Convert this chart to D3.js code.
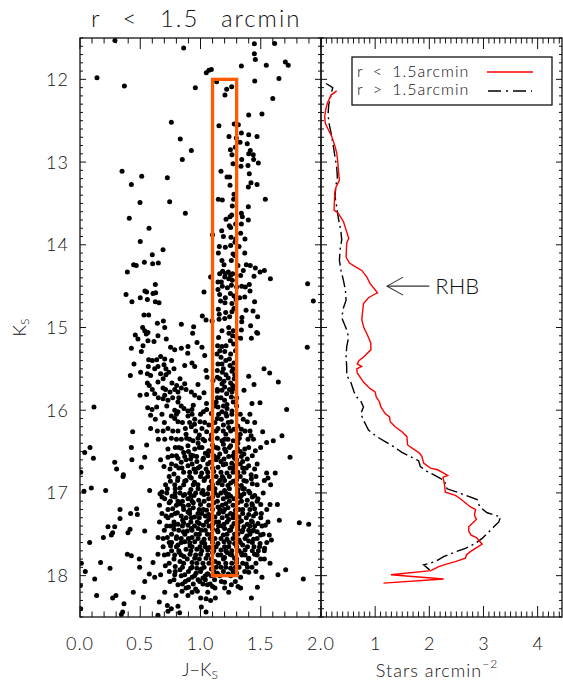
<!DOCTYPE html>
<html><head><meta charset="utf-8">
<script src="https://cdn.jsdelivr.net/npm/d3@7"></script>
<style>
html,body{margin:0;padding:0;background:#fff;}
text{font-family:"Lato","DejaVu Sans",sans-serif;font-weight:300;fill:#111;}
</style></head>
<body><svg id="c" width="563" height="685"></svg>
<script>
// ---------- DATA ----------
const titleText = "r < 1.5 arcmin";
const xTicksLeft = [0, 0.5, 1, 1.5, 2];
const xTickLabelsLeft = ["0.0", "0.5", "1.0", "1.5", "2.0"];
const xTicksRight = [1, 2, 3, 4];
const yTicks = [12, 13, 14, 15, 16, 17, 18];
const legendLabels = ["r < 1.5arcmin", "r > 1.5arcmin"];
const selBox = {jk: [1.1, 1.3], ks: [12, 18]};
const rhbArrow = {tip: [1.22, 14.5], tail: [2.0, 14.5], label: "RHB"};

// CMD stars [J-Ks, Ks]
const stars = [
[0.29,11.53],[0.86,11.62],[1.447,11.57],[1.615,11.565],[1.447,11.69],[1.455,11.76],[1.339,11.84],[1.546,11.83],[1.704,11.79],[1.728,11.83],
[1.048,11.92],[1.07,11.89],[1.09,11.88],[0.141,11.98],[0.368,12.08],[0.957,12.10],[1.134,12.03],[1.217,12.12],[1.259,12.09],[1.203,12.19],
[1.45,12.02],[1.651,11.99],[1.60,12.23],[1.40,12.43],[1.51,12.42],[0.758,12.52],[1.153,12.56],[1.28,12.54],[1.314,12.55],[1.339,12.65],
[1.236,12.69],[1.297,12.71],[1.40,12.67],[1.469,12.69],[0.832,12.72],[1.328,12.76],[1.388,12.78],[1.289,12.82],[1.248,12.85],[0.924,12.86],
[1.413,12.86],[1.40,12.90],[1.261,12.91],[1.438,12.91],[1.342,12.97],[1.441,12.97],[0.849,12.97],[1.27,13.02],[1.336,13.05],[1.394,13.04],
[1.48,13.01],[0.349,13.11],[0.512,13.17],[0.725,13.19],[1.17,13.11],[1.22,13.18],[1.242,13.18],[1.405,13.14],[1.419,13.25],[0.426,13.27],
[1.245,13.28],[1.469,13.27],
[1.397,13.30],[0.498,13.49],[0.744,13.48],[1.148,13.45],[1.181,13.46],[1.278,13.39],[1.275,13.45],[1.264,13.53],[1.397,13.54],[1.538,13.45],
[0.409,13.68],[0.874,13.62],[1.212,13.69],[1.245,13.66],[1.259,13.64],[1.339,13.62],[1.347,13.66],[1.397,13.70],[0.573,13.80],[1.176,13.83],
[1.239,13.77],[1.25,13.79],[1.292,13.75],[1.339,13.75],[1.333,13.86],[1.10,13.88],[1.19,13.90],[1.253,13.91],[1.292,13.93],[1.369,13.93],
[0.50,13.96],[1.156,14.02],[1.206,14.03],[1.25,14.01],[1.286,13.97],[1.32,14.02],[0.689,14.06],[0.60,14.12],[1.148,14.10],[1.27,14.11],
[1.284,14.13],[1.367,14.10],[0.445,14.24],[0.467,14.25],[0.534,14.21],[0.603,14.23],[0.65,14.22],[1.178,14.19],[1.195,14.24],[1.256,14.19],
[1.311,14.25],[1.38,14.24],[1.413,14.25],[1.455,14.28],[0.393,14.33],[1.084,14.39],[1.159,14.35],[1.184,14.32],[1.206,14.35],[1.231,14.33],
[1.25,14.37],[1.267,14.35],[1.201,14.39],[1.234,14.41],[1.264,14.43],[1.145,14.45],[1.173,14.45],[1.333,14.37],[1.355,14.31],[1.444,14.38],
[1.494,14.33],[1.53,14.31],[1.58,14.41],[0.625,14.48],[0.382,14.60],[0.431,14.69],[0.50,14.64],[0.539,14.56],[0.553,14.57],[0.559,14.66],
[0.606,14.59],[0.628,14.58],[0.625,14.69],[0.656,14.70],[1.029,14.57],[1.145,14.54],[1.181,14.50],[1.223,14.52],[1.256,14.49],[1.30,14.51],
[1.342,14.50],[1.372,14.51],[1.405,14.48],[1.159,14.60],[1.206,14.64],[1.248,14.59],[1.278,14.62],[1.325,14.64],[1.367,14.63],[1.411,14.56],
[1.167,14.68],[1.203,14.70],[1.261,14.71],[1.295,14.66],[1.449,14.69],[1.889,14.47],[1.936,14.68],[0.531,14.85],[0.57,14.85],[1.015,14.86],
[1.148,14.78],[1.156,14.84],[1.209,14.82],[1.261,14.81],[1.278,14.77],[1.378,14.79],[1.436,14.80],[1.046,14.91],[1.096,14.92],[1.154,14.90],
[1.201,14.89],[1.242,14.87],[1.344,14.88],[1.474,14.87],[0.642,14.95],[0.692,14.92],[0.703,15.00],[0.841,14.96],[0.943,14.99],[1.342,14.93],
[1.416,14.98],[0.52,15.00],[0.537,15.04],[0.564,15.06],[0.935,15.07],[1.178,15.04],[1.234,15.00],[1.272,15.04],[1.339,15.03],[1.466,15.06],
[0.459,15.09],[0.481,15.14],[0.55,15.08],[0.564,15.16],[0.647,15.10],[0.716,15.14],[0.614,15.17],[0.426,15.25],[0.509,15.29],[0.523,15.22],
[0.752,15.24],[0.786,15.27],[0.841,15.25],[0.896,15.23],[0.971,15.18],[1.012,15.24],[1.142,15.22],[1.178,15.23],[1.212,15.22],[1.248,15.16],
[1.267,15.10],[1.275,15.20],[1.333,15.13],[1.422,15.13],[1.474,15.07],[1.236,15.07],[1.886,15.24],[0.894,15.31],[1.035,15.34],[1.137,15.32],
[1.201,15.29],[1.25,15.32],[0.636,15.39],[0.669,15.35],[0.57,15.39],[0.703,15.38],[0.448,15.44],[0.567,15.47],[0.647,15.47],[0.697,15.45],
[0.713,15.50],[0.929,15.43],[0.952,15.47],[0.869,15.46],[1.145,15.44],[1.178,15.44],[1.245,15.46],[1.278,15.43],[0.418,15.58],[0.503,15.54],
[0.559,15.56],[0.586,15.58],[0.669,15.56],[0.713,15.57],[0.736,15.54],[1.046,15.52],[1.054,15.60],[1.14,15.52],[1.181,15.54],[1.212,15.57],
[1.261,15.53],[1.284,15.57],[1.40,15.59],[1.527,15.50],[1.574,15.55],[0.559,15.67],[0.575,15.70],[0.647,15.66],[0.763,15.67],[0.802,15.70],
[0.869,15.68],[0.979,15.69],[1.104,15.64],[1.178,15.68],[1.195,15.65],[1.25,15.67],[1.267,15.70],[1.444,15.69],[1.646,15.66],[0.498,15.82],
[0.553,15.81],[0.62,15.80],[0.689,15.73],[0.703,15.82],[0.747,15.78],[0.786,15.75],[0.813,15.78],[0.841,15.73],[0.924,15.78],[0.952,15.82],
[1.029,15.79],[1.14,15.77],[1.178,15.76],[1.217,15.80],[1.261,15.78],[1.361,15.76],[0.689,15.86],[0.73,15.88],[0.769,15.85],[0.813,15.90],
[1.14,15.85],[1.20,15.88],[1.256,15.84],[1.272,15.90],[1.427,15.92],[1.494,15.91],[0.116,15.96],[0.562,15.97],[0.598,15.99],[0.636,15.96],
[0.786,16.00],[0.813,16.02],[0.863,15.98],[0.896,16.01],[0.929,15.99],[1.024,16.02],[1.051,15.99],[1.145,15.96],[1.178,16.02],[1.22,15.98],
[1.261,16.01],[1.715,15.99],[0.586,16.06],[0.625,16.11],[0.758,16.07],[0.786,16.10],[0.813,16.14],[0.896,16.07],[0.952,16.11],[0.996,16.14],
[1.035,16.15],[1.14,16.10],[1.173,16.11],[1.217,16.07],[1.256,16.14],[1.355,16.11],[1.388,16.14],[0.586,16.22],[0.642,16.25],[0.73,16.22],
[0.813,16.25],[0.437,16.26],[0.874,16.22],[0.924,16.20],[1.012,16.22],[1.051,16.26],[1.145,16.22],[1.189,16.25],[1.234,16.21],[1.278,16.23],
[1.339,16.23],[1.411,16.25],[1.516,16.26],[0.703,16.35],[0.758,16.34],[0.841,16.35],[0.885,16.34],[0.938,16.37],[0.979,16.34],[1.035,16.37],
[1.084,16.35],[1.14,16.34],[1.178,16.37],[1.228,16.35],[1.272,16.37],[1.322,16.34],[1.394,16.35],[1.604,16.37],[1.676,16.31],[0.553,16.42],
[0.426,16.45],[0.083,16.45],[0.039,16.51],[0.73,16.47],[0.791,16.45],[0.841,16.46],[0.896,16.43],[0.952,16.47],[1.012,16.45],[1.068,16.49],
[1.145,16.46],[1.20,16.47],[1.25,16.43],[1.306,16.46],[1.367,16.47],[1.455,16.49],[1.499,16.45],[1.549,16.39],[0.111,16.58],[0.288,16.63],
[0.431,16.60],[0.537,16.57],[0.669,16.60],[0.73,16.57],[0.763,16.55],[0.813,16.58],[0.869,16.56],[0.918,16.59],[0.968,16.56],[1.024,16.58],
[1.062,16.55],[1.145,16.57],[1.195,16.59],[1.234,16.56],[1.283,16.58],[1.339,16.56],[1.388,16.59],[1.743,16.57],[0.304,16.71],[0.509,16.69],
[0.697,16.68],[0.747,16.71],[0.796,16.67],[0.846,16.70],[0.896,16.67],[0.946,16.71],[0.996,16.68],[1.046,16.71],[1.145,16.69],[1.189,16.66],
[1.245,16.70],[1.289,16.67],[1.35,16.70],[1.40,16.67],[1.449,16.71],[1.549,16.76],[1.62,16.76],[0.006,16.75],[0.36,16.78],
[0.357,16.80],[0.033,16.98],[0.094,16.94],[0.213,16.97],[0.578,16.97],[0.664,17.01],[0.725,16.95],[0.786,16.90],[0.813,16.82],[0.869,16.86],
[0.924,16.82],[0.979,16.90],[1.035,16.83],[1.073,16.93],[1.145,16.88],[1.189,16.82],[1.228,16.91],[1.272,16.86],[1.339,16.91],[1.38,16.86],
[1.422,16.83],[1.364,16.95],[1.582,16.90],[1.56,16.82],[0.703,17.07],[0.764,17.04],[0.813,17.10],[0.858,17.03],[0.896,17.07],[0.946,17.03],
[0.985,17.09],[1.029,17.02],[1.068,17.07],[1.145,17.03],[1.189,17.07],[1.234,17.02],[1.278,17.07],[1.339,17.03],[1.388,17.09],[1.427,17.13],
[1.477,17.07],[1.577,17.14],[0.332,17.20],[0.332,17.31],[0.42,17.25],[0.47,17.19],[0.476,17.26],[0.714,17.28],[0.769,17.19],[0.808,17.24],
[0.858,17.16],[0.896,17.23],[0.94,17.18],[0.979,17.25],[1.024,17.20],[1.068,17.26],[1.145,17.17],[1.189,17.23],[1.228,17.18],[1.272,17.26],
[1.35,17.20],[1.40,17.26],[1.449,17.19],[1.505,17.25],[1.638,17.14],[1.654,17.33],[0.232,17.41],[0.288,17.41],[0.26,17.51],[0.271,17.48],
[0.398,17.48],[0.415,17.44],[0.537,17.46],[0.194,17.54],[0.08,17.60],[0.725,17.54],[0.78,17.39],[0.813,17.38],[0.852,17.33],[0.896,17.39],
[0.924,17.30],[0.974,17.35],[1.024,17.39],[1.068,17.32],[1.151,17.35],[1.195,17.38],[1.234,17.32],[1.278,17.37],[1.339,17.34],[1.388,17.38],
[1.422,17.34],[1.477,17.37],[1.538,17.39],[1.82,17.36],[1.898,17.38],[0.802,17.53],[0.858,17.47],[0.924,17.43],[0.963,17.50],[1.007,17.45],
[1.057,17.50],[1.145,17.47],[1.189,17.51],[1.239,17.45],[1.283,17.50],[1.344,17.47],[1.383,17.52],[1.433,17.46],[1.499,17.51],[1.571,17.51],
[1.588,17.57],[0.648,17.54],[0.752,17.64],[0.813,17.63],[0.869,17.59],[0.913,17.64],[0.952,17.59],[0.996,17.65],[1.035,17.61],[1.073,17.66],
[1.145,17.61],[1.195,17.59],[1.234,17.65],[1.283,17.61],[1.35,17.63],[1.40,17.58],[1.444,17.65],[1.494,17.61],[1.532,17.67],[0.393,17.74],
[0.426,17.76],[0.647,17.74],[0.73,17.74],[0.786,17.75],[0.824,17.72],[0.863,17.77],[0.913,17.74],[0.952,17.79],[1.001,17.74],[1.046,17.79],
[1.145,17.75],[1.20,17.78],[1.245,17.74],[1.283,17.79],[1.344,17.75],[1.40,17.79],[1.449,17.74],[1.499,17.80],[1.577,17.85],[0.011,17.85],
[0.171,17.84],[0.249,17.91],[0.492,17.80],[0.495,17.90],[0.606,17.84],[0.708,17.88],[0.044,17.95],[0.122,18.04],[0.575,17.98],[0.62,18.02],
[0.669,17.99],[0.741,17.95],[0.786,17.99],[0.83,17.93],[0.869,17.99],[0.918,17.91],[0.963,17.97],[1.007,17.92],[1.057,17.98],[1.117,18.05],
[1.173,18.07],[1.20,18.08],[1.289,18.07],[1.333,18.02],[1.367,17.95],[1.40,17.96],[1.427,17.90],[1.51,18.02],[1.643,17.99],[1.707,17.93],
[1.853,18.04],[0.537,18.07],[0.747,18.07],[0.813,18.11],[0.874,18.07],[0.94,18.10],[0.993,18.07],[1.057,18.11],[1.256,18.11],[1.311,18.13],
[1.333,18.15],[1.472,18.14],[0.003,18.12],[0.138,18.24],[0.271,18.27],[0.298,18.24],[0.442,18.20],[0.365,18.34],[0.526,18.26],[0.703,18.20],
[0.797,18.24],[0.847,18.19],[0.896,18.24],[0.974,18.19],[1.001,18.27],[1.046,18.28],[1.084,18.30],[1.123,18.27],[1.234,18.20],[1.422,18.27],
[0.658,18.32],[0.725,18.36],[0.758,18.40],[0.813,18.37],[1.007,18.38],[1.046,18.44],[0.354,18.44],[0.343,18.47],[0.647,18.48],[0.827,18.45],
[0.73,18.43],[0.006,18.40],
[1.17,15.36],[1.24,15.38],[1.14,15.60],[1.23,15.61],[1.20,15.72],[1.27,15.74],[1.13,15.90],[1.22,15.93],[1.05,15.92],[0.94,15.94],
[1.00,16.05],[1.09,16.04],[1.21,16.04],[1.33,16.05],[0.95,16.17],[1.07,16.18],[1.19,16.18],[1.31,16.19],[0.88,16.29],[0.99,16.30],
[1.09,16.30],[1.21,16.29],[1.33,16.29],[1.42,16.31],
[0.98,16.40],[1.10,16.42],[1.19,16.41],[1.31,16.40],[1.04,16.52],[1.16,16.53],[1.28,16.51],[1.36,16.53],[0.86,16.51],[0.92,16.54],
[0.97,16.62],[1.08,16.63],[1.17,16.62],[1.26,16.64],[1.35,16.62],[0.84,16.63],[0.91,16.75],[1.01,16.76],[1.11,16.74],[1.22,16.76],
[1.31,16.75],[1.42,16.78],[0.78,16.77],[1.18,16.80],[1.06,16.80],
[0.88,16.85],[0.95,16.87],[1.09,16.86],[1.16,16.85],[1.25,16.88],[1.30,16.84],[1.43,16.89],[0.75,16.86],[0.83,16.94],[0.92,16.96],
[1.02,16.97],[1.12,16.95],[1.20,16.97],[1.31,16.96],[1.40,16.98],[0.68,16.99],
[0.79,17.00],[0.87,17.02],[0.96,17.00],[1.06,17.01],[1.17,17.00],[1.25,17.04],[1.36,17.01],[1.45,17.03],[0.74,17.12],[0.83,17.13],
[0.94,17.12],[1.00,17.14],[1.11,17.12],[1.21,17.13],[1.31,17.12],[1.38,17.15],[1.50,17.14],[0.91,17.21],[1.05,17.21],[1.16,17.20],[1.29,17.21],
[0.76,17.27],[0.84,17.28],[0.95,17.29],[1.04,17.28],[1.12,17.29],[1.22,17.28],[1.32,17.29],[1.44,17.28],[0.86,17.36],[0.99,17.37],
[1.10,17.38],[1.18,17.40],[1.26,17.41],[1.36,17.41],[1.45,17.40],[0.72,17.40],
[0.78,17.44],[0.89,17.46],[0.98,17.43],[1.10,17.44],[1.20,17.43],[1.31,17.44],[1.40,17.45],[1.47,17.47],[0.84,17.55],[0.93,17.54],
[1.03,17.56],[1.12,17.55],[1.22,17.56],[1.32,17.57],[1.44,17.56],
[0.76,17.60],[0.88,17.68],[0.97,17.68],[1.06,17.69],[1.17,17.69],[1.26,17.70],[1.37,17.69],[1.48,17.70],[0.82,17.70],[1.10,17.72],[1.22,17.72],[1.34,17.73],
[0.83,17.83],[0.93,17.84],[1.02,17.85],[1.12,17.83],[1.21,17.85],[1.30,17.84],[1.38,17.86],[0.79,17.89],[0.97,17.91],[1.09,17.92],
[1.17,17.90],[1.25,17.91],[1.32,17.90],[1.06,17.98],[1.14,17.97],[1.23,17.98],[1.30,17.97],[0.93,18.02],[1.02,18.03],[0.90,18.14],[0.96,18.16],[1.10,18.13],
[1.15,15.12],[1.30,15.12],[1.16,15.28],[1.29,15.28],[0.60,15.40],[0.76,15.40],[1.21,15.40],[0.62,15.50],[0.78,15.50],[1.19,15.50],[1.27,15.50],
[0.69,15.62],[0.83,15.62],[1.16,15.62],[1.28,15.62],[0.60,15.75],[0.71,15.75],[0.88,15.75],[1.14,15.75],[1.24,15.75],
[0.65,15.85],[0.82,15.85],[0.99,15.85],[1.17,15.85],[1.30,15.85],[0.72,15.95],[0.84,15.95],[1.12,15.95],[1.19,15.95],[1.30,15.95],
[0.68,16.05],[0.80,16.05],[0.93,16.05],[1.15,16.05],[1.26,16.05],[1.41,16.05],[0.70,16.15],[0.85,16.15],[0.91,16.15],[1.12,16.15],[1.23,16.15],[1.45,16.15],
[0.69,16.25],[0.77,16.25],[0.96,16.25],[1.13,16.25],[1.25,16.25],[1.37,16.25],[0.65,16.35],[0.80,16.35],[0.91,16.35],[1.02,16.35],[1.20,16.35],[1.31,16.35],[1.44,16.35],
[0.82,16.45],[0.99,16.45],[1.13,16.45],[1.24,16.45],[1.40,16.45],[0.90,16.50],[1.07,16.50],[1.21,16.50],[1.33,16.50],
[0.80,16.55],[0.94,16.55],[1.11,16.55],[1.27,16.55],[1.43,16.55],[0.88,16.60],[1.02,16.60],[1.13,16.60],[1.30,16.60],
[0.76,16.65],[0.93,16.65],[1.06,16.65],[1.21,16.65],[1.33,16.65],[1.47,16.65],[0.82,16.70],[0.98,16.70],[1.10,16.70],[1.27,16.70],[1.38,16.70],
[0.86,16.75],[0.96,16.75],[1.06,16.75],[1.17,16.75],[1.27,16.75],[1.36,16.75],[0.74,16.80],[0.91,16.80],[1.00,16.80],[1.13,16.80],[1.24,16.80],[1.33,16.80],[1.46,16.80],
[0.81,16.85],[1.03,16.85],[1.20,16.85],[1.36,16.85],[1.53,16.85],[0.71,16.90],[0.86,16.90],[0.94,16.90],[1.10,16.90],[1.18,16.90],[1.30,16.90],[1.47,16.90],
[0.79,16.95],[0.98,16.95],[1.07,16.95],[1.24,16.95],[1.35,16.95],
[0.72,17.00],[0.83,17.00],[0.91,17.00],[1.01,17.00],[1.12,17.00],[1.21,17.00],[1.31,17.00],[1.41,17.00],[1.52,17.00],
[0.68,17.05],[0.79,17.05],[0.92,17.05],[1.10,17.05],[1.22,17.05],[1.33,17.05],[1.43,17.05],
[0.75,17.10],[0.85,17.10],[0.93,17.10],[1.03,17.10],[1.14,17.10],[1.24,17.10],[1.34,17.10],[1.47,17.10],
[0.66,17.15],[0.80,17.15],[0.90,17.15],[1.07,17.15],[1.18,17.15],[1.27,17.15],[1.43,17.15],
[0.73,17.20],[0.86,17.20],[0.99,17.20],[1.10,17.20],[1.20,17.20],[1.32,17.20],[1.41,17.20],[1.55,17.20],
[0.68,17.25],[0.79,17.25],[0.91,17.25],[1.01,17.25],[1.15,17.25],[1.25,17.25],[1.35,17.25],[1.46,17.25],
[0.73,17.30],[0.88,17.30],[0.99,17.30],[1.08,17.30],[1.18,17.30],[1.27,17.30],[1.38,17.30],[1.50,17.30],
[0.66,17.35],[0.78,17.35],[0.92,17.35],[1.05,17.35],[1.13,17.35],[1.22,17.35],[1.32,17.35],[1.43,17.35],[1.56,17.35],
[0.75,17.40],[0.85,17.40],[0.95,17.40],[1.07,17.40],[1.15,17.40],[1.31,17.40],[1.41,17.40],[1.51,17.40],
[0.70,17.45],[0.82,17.45],[0.93,17.45],[1.04,17.45],[1.14,17.45],[1.25,17.45],[1.35,17.45],[1.44,17.45],
[0.76,17.50],[0.87,17.50],[0.99,17.50],[1.09,17.50],[1.22,17.50],[1.31,17.50],[1.41,17.50],[1.52,17.50],
[0.69,17.55],[0.80,17.55],[0.90,17.55],[0.98,17.55],[1.08,17.55],[1.17,17.55],[1.27,17.55],[1.37,17.55],[1.47,17.55],
[0.74,17.60],[0.84,17.60],[0.91,17.60],[1.01,17.60],[1.10,17.60],[1.24,17.60],[1.33,17.60],[1.43,17.60],[1.55,17.60],
[0.69,17.65],[0.80,17.65],[0.93,17.65],[1.04,17.65],[1.13,17.65],[1.20,17.65],[1.30,17.65],[1.39,17.65],[1.49,17.65],
[0.76,17.70],[0.92,17.70],[1.01,17.70],[1.11,17.70],[1.21,17.70],[1.32,17.70],[1.43,17.70],[1.53,17.70],
[0.70,17.75],[0.84,17.75],[0.96,17.75],[1.06,17.75],[1.17,17.75],[1.26,17.75],[1.37,17.75],[1.47,17.75],
[0.78,17.80],[0.89,17.80],[0.99,17.80],[1.09,17.80],[1.19,17.80],[1.30,17.80],[1.40,17.80],[1.53,17.80],
[0.74,17.85],[0.86,17.85],[0.97,17.85],[1.07,17.85],[1.15,17.85],[1.26,17.85],[1.35,17.85],[1.46,17.85],
[0.85,17.90],[0.93,17.90],[1.03,17.90],[1.13,17.90],[1.21,17.90],[1.29,17.90],[1.39,17.90],
[0.79,17.95],[0.90,17.95],[1.00,17.95],[1.11,17.95],[1.19,17.95],[1.27,17.95],[1.46,17.95],
[0.84,18.00],[0.95,18.00],[1.04,18.00],[1.09,18.00],[1.16,18.00],[1.25,18.00],
[0.78,18.05],[0.90,18.05],[0.98,18.05],[1.04,18.05],[0.85,18.10],[1.02,18.10],[1.08,18.10],[0.88,18.15],[1.12,18.15],[1.20,18.15],[0.93,18.20],[1.06,18.20]
];

// Density profiles [stars arcmin^-2, Ks]
const innerProfile = [
[0.29,12.14],[0.185,12.19],[0.117,12.29],[0.086,12.37],[0.068,12.45],[0.08,12.53],[0.136,12.61],[0.198,12.69],[0.259,12.81],[0.29,12.89],
[0.309,12.99],[0.321,13.10],[0.34,13.22],[0.278,13.30],[0.253,13.38],[0.241,13.58],[0.321,13.62],[0.414,13.72],[0.463,13.82],[0.512,13.92],
[0.475,13.98],[0.463,14.15],[0.525,14.22],[0.648,14.27],[0.753,14.31],[0.846,14.39],[0.907,14.47],[0.969,14.52],[1.043,14.58],[0.957,14.61],
[0.877,14.64],[0.784,14.71],[0.753,14.91],[0.796,15.01],[0.858,15.09],[0.92,15.19],[0.92,15.27],[0.796,15.35],[0.70,15.40],[0.67,15.44],
[0.75,15.47],[0.66,15.50],[0.67,15.55],[0.784,15.66],[0.907,15.74],[1.0,15.78],[1.02,15.84],[1.08,15.90],[1.105,15.96],[1.185,16.04],
[1.265,16.08],[1.278,16.14],[1.37,16.20],[1.494,16.26],[1.586,16.32],[1.599,16.42],[1.71,16.47],[1.821,16.52],[1.864,16.56],[1.895,16.64],
[2.019,16.70],[2.154,16.72],[2.265,16.76],[2.34,16.79],[2.253,16.81],[2.278,16.89],[2.296,16.99],[2.481,17.03],[2.574,17.07],[2.648,17.11],
[2.759,17.17],[2.852,17.20],[2.833,17.27],[2.87,17.32],[2.79,17.37],[2.728,17.41],[2.728,17.46],[2.772,17.51],[2.87,17.54],[2.975,17.62],
[2.852,17.67],[2.759,17.71],[2.685,17.75],[2.667,17.79],[2.481,17.83],[2.315,17.86],[2.173,17.89],[2.031,17.94],[1.29,17.99],[2.265,18.04],
[1.154,18.09]
];
const outerProfile = [
[0.093,12.05],[0.216,12.10],[0.179,12.21],[0.142,12.31],[0.13,12.43],[0.154,12.55],[0.198,12.69],[0.228,12.81],[0.259,12.94],[0.29,13.06],
[0.302,13.18],[0.272,13.30],[0.259,13.42],[0.29,13.54],[0.321,13.68],[0.364,13.82],[0.383,13.94],[0.352,14.06],[0.34,14.19],[0.37,14.31],
[0.414,14.43],[0.451,14.55],[0.463,14.67],[0.401,14.79],[0.389,14.89],[0.438,14.97],[0.488,15.05],[0.506,15.13],[0.475,15.23],[0.463,15.35],
[0.475,15.48],[0.475,15.58],[0.549,15.66],[0.611,15.78],[0.66,15.84],[0.735,15.89],[0.784,15.96],[0.735,16.04],[0.784,16.12],[0.877,16.24],
[1.031,16.32],[1.185,16.38],[1.34,16.44],[1.494,16.51],[1.648,16.56],[1.802,16.61],[1.833,16.68],[1.957,16.74],[2.111,16.79],[2.278,16.85],
[2.327,16.95],[2.512,16.99],[2.636,17.02],[2.883,17.08],[2.932,17.17],[3.068,17.24],[3.315,17.29],[3.284,17.35],[3.191,17.41],[3.068,17.49],
[2.975,17.55],[2.852,17.61],[2.667,17.67],[2.451,17.72],[2.265,17.77],[2.111,17.83],[1.895,17.87],[2.006,17.93]
];

// ---------- DRAW ----------
const svg = d3.select("#c");
const P = {xl: 80, xm: 321, xr: 562, yt: 38, yb: 617};
const xL = d3.scaleLinear().domain([0, 2]).range([P.xl, P.xm]);
const xR = d3.scaleLinear().domain([0, 4.45]).range([P.xm, P.xr]);
const y = d3.scaleLinear().domain([11.5, 18.5]).range([P.yt, P.yb]);

const defs = svg.append("defs");
defs.append("clipPath").attr("id", "clipL").append("rect")
  .attr("x", P.xl).attr("y", P.yt).attr("width", P.xm - P.xl).attr("height", P.yb - P.yt);
defs.append("clipPath").attr("id", "clipR").append("rect")
  .attr("x", P.xm).attr("y", P.yt).attr("width", P.xr - P.xm).attr("height", P.yb - P.yt);

// Stars
svg.append("g").attr("clip-path", "url(#clipL)")
  .selectAll("circle").data(stars).join("circle")
  .attr("cx", d => xL(d[0])).attr("cy", d => y(d[1])).attr("r", 2.5).attr("fill", "#000");

// Selection box
svg.append("rect")
  .attr("x", xL(selBox.jk[0])).attr("y", y(selBox.ks[0]))
  .attr("width", xL(selBox.jk[1]) - xL(selBox.jk[0]))
  .attr("height", y(selBox.ks[1]) - y(selBox.ks[0]))
  .attr("fill", "none").attr("stroke", "#ff5a00").attr("stroke-width", 3.3);

// Profiles
const line = d3.line().x(d => xR(d[0])).y(d => y(d[1]));
const gR = svg.append("g").attr("clip-path", "url(#clipR)");
gR.append("path").datum(outerProfile).attr("d", line)
  .attr("fill", "none").attr("stroke", "#000").attr("stroke-width", 1.4)
  .attr("stroke-dasharray", "12,4,2,4");
gR.append("path").datum(innerProfile).attr("d", line)
  .attr("fill", "none").attr("stroke", "#ff0000").attr("stroke-width", 1.4);

// Arrow
const ax0 = xR(rhbArrow.tip[0]), ay0 = y(rhbArrow.tip[1]);
const ax1 = xR(rhbArrow.tail[0]);
const arrow = svg.append("g").attr("stroke", "#333").attr("stroke-width", 1.1).attr("fill", "none");
arrow.append("line").attr("x1", ax0).attr("y1", ay0).attr("x2", ax1).attr("y2", ay0);
arrow.append("path").attr("d", `M${ax0 + 16},${ay0 - 9}L${ax0},${ay0}L${ax0 + 16},${ay0 + 9}`);
svg.append("text").attr("x", ax1 + 6).attr("y", ay0).attr("dy", "0.36em")
  .attr("font-size", 22).text(rhbArrow.label);

// Axes helper
function drawAxes(xs, majors, minorStep, x0, x1) {
  const minors = d3.range(xs.domain()[0], xs.domain()[1] + 1e-9, minorStep);
  const yMinors = d3.range(11.5, 18.5 + 1e-9, 0.1);
  const g = svg.append("g").attr("stroke", "#111").attr("stroke-width", 1);
  g.append("rect").attr("x", x0).attr("y", P.yt).attr("width", x1 - x0).attr("height", P.yb - P.yt)
    .attr("fill", "none").attr("stroke-width", 1.3);
  minors.forEach(v => {
    const isMaj = majors.some(m => Math.abs(m - v) < 1e-6);
    const len = isMaj ? 11 : 5.5;
    const px = xs(v);
    g.append("line").attr("x1", px).attr("x2", px).attr("y1", P.yb).attr("y2", P.yb - len);
    g.append("line").attr("x1", px).attr("x2", px).attr("y1", P.yt).attr("y2", P.yt + len);
  });
  yMinors.forEach(v => {
    const isMaj = Math.abs(v - Math.round(v)) < 1e-6;
    const len = isMaj ? 6 : 3;
    const py = y(v);
    g.append("line").attr("x1", x0).attr("x2", x0 + len).attr("y1", py).attr("y2", py);
    g.append("line").attr("x1", x1).attr("x2", x1 - len).attr("y1", py).attr("y2", py);
  });
}
drawAxes(xL, xTicksLeft, 0.1, P.xl, P.xm);
drawAxes(xR, xTicksRight, 0.1, P.xm, P.xr);

// Tick labels
const tl = svg.append("g").attr("font-size", 18);
xTicksLeft.forEach((v, i) => tl.append("text").attr("x", xL(v)).attr("y", 650)
  .attr("text-anchor", "middle").attr("letter-spacing", 1).text(xTickLabelsLeft[i]));
xTicksRight.forEach(v => tl.append("text").attr("x", xR(v)).attr("y", 650)
  .attr("text-anchor", "middle").text(v));
yTicks.forEach(v => tl.append("text").attr("x", 69).attr("y", y(v)).attr("dy", "0.36em")
  .attr("text-anchor", "end").attr("letter-spacing", 1).text(v));

// Axis titles
const xt1 = svg.append("text").attr("x", 200).attr("y", 676).attr("text-anchor", "middle").attr("font-size", 18);
xt1.append("tspan").text("J−K");
xt1.append("tspan").attr("font-size", 12).attr("dy", 3).text("S");
const xt2 = svg.append("text").attr("x", 437).attr("y", 677).attr("text-anchor", "middle")
  .attr("font-size", 18).attr("letter-spacing", 1);
xt2.append("tspan").text("Stars arcmin");
xt2.append("tspan").attr("font-size", 12).attr("dy", -9).text("−2");
const yt = svg.append("text").attr("transform", `translate(26,${y(15)}) rotate(-90)`)
  .attr("text-anchor", "middle").attr("font-size", 18);
yt.append("tspan").text("K");
yt.append("tspan").attr("font-size", 12).attr("dy", 3).text("S");

// Title
svg.append("text").attr("x", 91).attr("y", 27).attr("font-size", 24)
  .attr("letter-spacing", 2).attr("word-spacing", 13).text(titleText);

// Legend
const lg = svg.append("g");
lg.append("rect").attr("x", 352).attr("y", 57).attr("width", 200).attr("height", 48)
  .attr("fill", "#fff").attr("stroke", "#111").attr("stroke-width", 1.3);
legendLabels.forEach((t, i) => lg.append("text").attr("x", 357).attr("y", 77 + i * 18)
  .attr("font-size", 16).attr("letter-spacing", 1).attr("word-spacing", 4).text(t));
lg.append("line").attr("x1", 487).attr("x2", 533).attr("y1", 72).attr("y2", 72)
  .attr("stroke", "#ff0000").attr("stroke-width", 1.4);
lg.append("line").attr("x1", 488).attr("x2", 532).attr("y1", 91).attr("y2", 91)
  .attr("stroke", "#000").attr("stroke-width", 1.4).attr("stroke-dasharray", "13,5,2,5");
</script></body></html>
